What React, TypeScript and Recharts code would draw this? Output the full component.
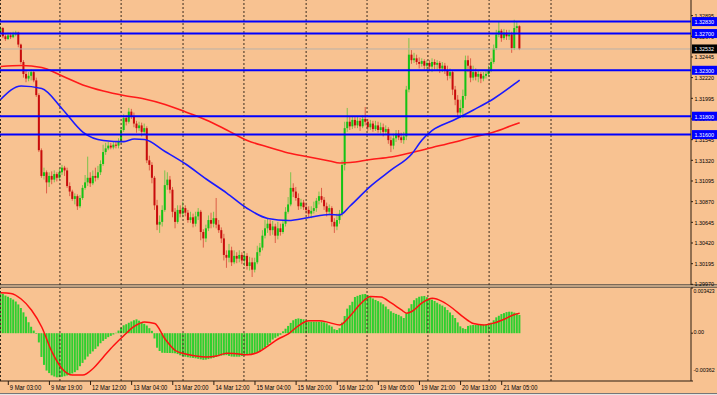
import React from 'react';
import { ComposedChart, Bar, Line, XAxis, YAxis, ReferenceLine } from 'recharts';

// H1 candles, bar 0 = first visible bar; open of bar i = close of bar i-1
const FIRST_OPEN = 1.3271;

const closes = [
  1.3276, 1.3267, 1.3264, 1.3268, 1.3266, 1.3269, 1.3271, 1.3258, 1.3239, 1.3226,
  1.3221, 1.3224, 1.3228, 1.3219, 1.3203, 1.3143, 1.3115, 1.3119, 1.3108, 1.3115,
  1.3111, 1.3117, 1.3113, 1.3119, 1.3124, 1.3121, 1.3104, 1.3098, 1.3090, 1.3093,
  1.3082, 1.3091, 1.3102, 1.3108, 1.3113, 1.3107, 1.3115, 1.3113, 1.3119, 1.3128,
  1.3141, 1.3145, 1.3148, 1.3146, 1.3149, 1.3148, 1.3152, 1.3165, 1.3178, 1.3174,
  1.3185, 1.3180, 1.3172, 1.3167, 1.3170, 1.3163, 1.3167, 1.3132, 1.3127, 1.3113,
  1.3083, 1.3062, 1.3065, 1.3078, 1.3105, 1.3111, 1.3100, 1.3076, 1.3065, 1.3078,
  1.3074, 1.3080, 1.3075, 1.3067, 1.3070, 1.3063, 1.3071, 1.3076, 1.3054, 1.3047,
  1.3058, 1.3067, 1.3063, 1.3069, 1.3062, 1.3056, 1.3047, 1.3029, 1.3026, 1.3034,
  1.3021, 1.3028, 1.3025, 1.3029, 1.3023, 1.3028, 1.3017, 1.3021, 1.3013, 1.3021,
  1.3032, 1.3037, 1.3050, 1.3058, 1.3063, 1.3056, 1.3060, 1.3050, 1.3058, 1.3054,
  1.3063, 1.3076, 1.3084, 1.3102, 1.3098, 1.3091, 1.3082, 1.3086, 1.3081, 1.3078,
  1.3074, 1.3077, 1.3080, 1.3088, 1.3093, 1.3089, 1.3082, 1.3076, 1.3080, 1.3065,
  1.3060, 1.3067, 1.3074, 1.3127, 1.3167, 1.3174, 1.3169, 1.3176, 1.3170, 1.3175,
  1.3169, 1.3177, 1.3174, 1.3168, 1.3172, 1.3166, 1.3170, 1.3165, 1.3168, 1.3163,
  1.3166, 1.3154, 1.3148, 1.3156, 1.3161, 1.3157, 1.3154, 1.3158, 1.3209, 1.3247,
  1.3241, 1.3243, 1.3239, 1.3237, 1.3240, 1.3235, 1.3238, 1.3234, 1.3239, 1.3236,
  1.3238, 1.3232, 1.3235, 1.3230, 1.3224, 1.3228, 1.3209, 1.3198, 1.3184, 1.3189,
  1.3202, 1.3241, 1.3235, 1.3222, 1.3228, 1.3223, 1.3226, 1.3221, 1.3224, 1.3226,
  1.3230, 1.3239, 1.3254, 1.3269, 1.3273, 1.3265, 1.3271, 1.3267, 1.3269, 1.3254,
  1.3276, 1.3278, 1.32532,
];

const highs = [
  1.3278, 1.3277, 1.3269, 1.3271, 1.3271, 1.3272, 1.3273, 1.3272, 1.3259, 1.3241,
  1.3230, 1.3228, 1.3231, 1.3230, 1.3222, 1.3205, 1.3145, 1.3124, 1.3121, 1.3119,
  1.3120, 1.3121, 1.3119, 1.3123, 1.3127, 1.3126, 1.3124, 1.3108, 1.3100, 1.3096,
  1.3095, 1.3094, 1.3105, 1.3116, 1.3136, 1.3119, 1.3121, 1.3124, 1.3126, 1.3132,
  1.3149, 1.3151, 1.3152, 1.3151, 1.3153, 1.3152, 1.3156, 1.3168, 1.3182, 1.3181,
  1.3189, 1.3188, 1.3184, 1.3175, 1.3174, 1.3173, 1.3172, 1.3169, 1.3137, 1.3130,
  1.3115, 1.3089, 1.3072, 1.3083, 1.3121, 1.3119, 1.3115, 1.3103, 1.3080, 1.3083,
  1.3083, 1.3087, 1.3083, 1.3078, 1.3076, 1.3074, 1.3076, 1.3080, 1.3078, 1.3057,
  1.3062, 1.3072, 1.3075, 1.3076, 1.3091, 1.3067, 1.3059, 1.3052, 1.3034, 1.3041,
  1.3038, 1.3034, 1.3032, 1.3034, 1.3032, 1.3033, 1.3031, 1.3027, 1.3026, 1.3026,
  1.3039, 1.3042, 1.3056, 1.3067, 1.3069, 1.3067, 1.3066, 1.3063, 1.3065, 1.3063,
  1.3067, 1.3081, 1.3092, 1.3119, 1.3107, 1.3103, 1.3096, 1.3090, 1.3089, 1.3086,
  1.3082, 1.3082, 1.3087, 1.3091, 1.3098, 1.3102, 1.3092, 1.3086, 1.3084, 1.3082,
  1.3069, 1.3074, 1.3078, 1.3132, 1.3174, 1.3189, 1.3179, 1.3180, 1.3179, 1.3179,
  1.3178, 1.3181, 1.3190, 1.3177, 1.3176, 1.3175, 1.3175, 1.3174, 1.3173, 1.3172,
  1.3170, 1.3168, 1.3158, 1.3161, 1.3165, 1.3165, 1.3162, 1.3163, 1.3213, 1.3265,
  1.3252, 1.3249, 1.3247, 1.3244, 1.3243, 1.3242, 1.3241, 1.3241, 1.3243, 1.3242,
  1.3241, 1.3240, 1.3239, 1.3238, 1.3235, 1.3232, 1.3230, 1.3213, 1.3203, 1.3198,
  1.3209, 1.3246, 1.3246, 1.3243, 1.3235, 1.3232, 1.3230, 1.3228, 1.3228, 1.3230,
  1.3235, 1.3243, 1.3258, 1.3274, 1.3283, 1.3275, 1.3275, 1.3274, 1.3274, 1.3272,
  1.3285, 1.3283, 1.3279,
];

const lows = [
  1.3269, 1.3265, 1.3262, 1.3263, 1.3264, 1.3265, 1.3267, 1.3255, 1.3237, 1.3222,
  1.3217, 1.3218, 1.3219, 1.3217, 1.3201, 1.3141, 1.3113, 1.3111, 1.3096, 1.3103,
  1.3106, 1.3108, 1.3109, 1.3111, 1.3116, 1.3115, 1.3102, 1.3093, 1.3088, 1.3084,
  1.3078, 1.3080, 1.3089, 1.3100, 1.3104, 1.3103, 1.3105, 1.3109, 1.3111, 1.3116,
  1.3126, 1.3138, 1.3143, 1.3144, 1.3144, 1.3145, 1.3145, 1.3150, 1.3163, 1.3170,
  1.3172, 1.3177, 1.3168, 1.3162, 1.3164, 1.3158, 1.3160, 1.3129, 1.3121, 1.3107,
  1.3078, 1.3056, 1.3053, 1.3060, 1.3076, 1.3100, 1.3096, 1.3070, 1.3058, 1.3063,
  1.3070, 1.3070, 1.3071, 1.3064, 1.3064, 1.3059, 1.3060, 1.3067, 1.3045, 1.3037,
  1.3043, 1.3055, 1.3058, 1.3059, 1.3058, 1.3053, 1.3042, 1.3023, 1.3015, 1.3021,
  1.3017, 1.3019, 1.3020, 1.3021, 1.3019, 1.3017, 1.3013, 1.3012, 1.3005, 1.3010,
  1.3019, 1.3028, 1.3034, 1.3047, 1.3053, 1.3050, 1.3051, 1.3042, 1.3046, 1.3050,
  1.3052, 1.3060, 1.3074, 1.3082, 1.3092, 1.3088, 1.3078, 1.3079, 1.3078, 1.3074,
  1.3070, 1.3069, 1.3074, 1.3076, 1.3084, 1.3086, 1.3078, 1.3071, 1.3072, 1.3060,
  1.3053, 1.3056, 1.3063, 1.3071, 1.3121, 1.3163, 1.3165, 1.3166, 1.3167, 1.3167,
  1.3164, 1.3167, 1.3170, 1.3164, 1.3165, 1.3163, 1.3164, 1.3162, 1.3161, 1.3158,
  1.3160, 1.3150, 1.3141, 1.3144, 1.3152, 1.3154, 1.3151, 1.3150, 1.3154, 1.3206,
  1.3237, 1.3238, 1.3236, 1.3232, 1.3234, 1.3231, 1.3230, 1.3229, 1.3228, 1.3231,
  1.3230, 1.3227, 1.3228, 1.3226, 1.3219, 1.3221, 1.3203, 1.3192, 1.3179, 1.3178,
  1.3178, 1.3198, 1.3228, 1.3217, 1.3219, 1.3219, 1.3217, 1.3216, 1.3218, 1.3221,
  1.3223, 1.3228, 1.3237, 1.3252, 1.3266, 1.3261, 1.3263, 1.3263, 1.3263, 1.3249,
  1.3252, 1.3271, 1.3252,
];

// oscillator histogram, one value per bar
const hist = [
  0.00302, 0.00298, 0.00285, 0.00276, 0.00266, 0.00255, 0.00241, 0.00218, 0.00191, 0.00158,
  0.00125, 0.00083, 0.00048, 0.0002, -0.00005, -0.0007, -0.0018, -0.0024, -0.00283, -0.00302,
  -0.00319, -0.00328, -0.00334, -0.00333, -0.0033, -0.00326, -0.0032, -0.00315, -0.00305, -0.00295,
  -0.0028, -0.0025, -0.00225, -0.002, -0.00177, -0.00156, -0.00138, -0.00119, -0.001, -0.00076,
  -0.00058, -0.00044, -0.0003, -0.0002, -0.0001, 0.00003, 0.0002, 0.00042, 0.0006, 0.00068,
  0.00079, 0.00089, 0.00098, 0.00105, 0.00095, 0.00083, 0.00071, 0.00058, 0.00038, 0.00018,
  -0.0004, -0.0011, -0.00135, -0.00148, -0.00149, -0.0015, -0.0015, -0.00151, -0.00152, -0.00158,
  -0.00167, -0.00174, -0.00178, -0.00182, -0.00185, -0.00187, -0.0019, -0.00194, -0.00198, -0.00202,
  -0.002, -0.00196, -0.00191, -0.00187, -0.0018, -0.00174, -0.0017, -0.00167, -0.00166, -0.00172,
  -0.00177, -0.00178, -0.00178, -0.00178, -0.00173, -0.00168, -0.00164, -0.00161, -0.00158, -0.00152,
  -0.00145, -0.00137, -0.00124, -0.00108, -0.00092, -0.00072, -0.00048, -0.00035, -0.00024, -0.00012,
  0.00014, 0.00034, 0.00055, 0.00078, 0.00098, 0.00108, 0.00112, 0.00108, 0.00105, 0.00096,
  0.00088, 0.00087, 0.00087, 0.00087, 0.00087, 0.00087, 0.00082, 0.00075, 0.0006, 0.0005,
  0.0003, 0.00024, 0.00038, 0.0008, 0.0013, 0.00186, 0.00212, 0.00238, 0.00274, 0.00283,
  0.0029, 0.00295, 0.00297, 0.00288, 0.00279, 0.00263, 0.00252, 0.00243, 0.00233, 0.00219,
  0.00202, 0.00182, 0.00166, 0.00154, 0.00146, 0.00139, 0.00128, 0.00115, 0.0015, 0.00188,
  0.0022, 0.0025, 0.00265, 0.00276, 0.0028, 0.00282, 0.00272, 0.00263, 0.00254, 0.00244,
  0.00231, 0.00219, 0.00209, 0.00197, 0.00176, 0.00157, 0.00137, 0.00115, 0.00082, 0.00052,
  0.00038, 0.00032, 0.00055, 0.0006, 0.00062, 0.00062, 0.00062, 0.00064, 0.00065, 0.00067,
  0.00072, 0.0008, 0.00098, 0.0012, 0.00132, 0.00145, 0.00152, 0.0016, 0.00163, 0.00163,
  0.00156, 0.0015, 0.00138,
];

// moving averages, read at these bars
const slowAt = [0, 8, 16, 24, 32, 40, 48, 56, 64, 72, 80, 88, 96, 104, 112, 120, 128, 132, 136, 144, 152, 160, 168, 176, 184, 192, 200, 202];
const maSlow = [
  1.32341, 1.32352, 1.3233, 1.32238, 1.3214, 1.32074, 1.32025, 1.31987, 1.31928, 1.31846,
  1.31759, 1.3165, 1.31536, 1.31465, 1.314, 1.31356, 1.31313, 1.31291, 1.31296, 1.31329,
  1.31356, 1.31405, 1.3146, 1.31514, 1.31574, 1.31628, 1.3171, 1.31729,
];
const fastAt = [0, 8, 16, 24, 32, 40, 48, 52, 56, 64, 72, 80, 88, 96, 104, 112, 120, 128, 132, 136, 144, 152, 160, 164, 168, 176, 184, 192, 200, 202];
const maFast = [
  1.31982, 1.32129, 1.32102, 1.31879, 1.31628, 1.31536, 1.31523, 1.31552, 1.31547, 1.31416,
  1.3128, 1.31117, 1.30964, 1.30796, 1.30687, 1.30665, 1.30698, 1.3073, 1.30725, 1.30823,
  1.3104, 1.31215, 1.31389, 1.31541, 1.31645, 1.31753, 1.31868, 1.31993, 1.32151, 1.32194,
];

// signal line of the oscillator
const sigAt = [
  0, 4, 8, 12, 16, 20, 24, 28, 32, 36, 40, 44, 48, 52, 56, 60, 64, 68, 72, 76,
  80, 84, 88, 92, 96, 100, 104, 108, 112, 116, 120, 124, 128, 132, 136, 140, 144, 148, 152, 156,
  158, 160, 164, 168, 172, 176, 180, 184, 188, 192, 196, 200, 202,
];
const signal = [
  0.00306, 0.00301, 0.00259, 0.00176, 0.00047, -0.00142, -0.00271, -0.00317, -0.00317, -0.00267,
  -0.0018, -0.00093, -0.00017, 0.00051, 0.00085, 0.00073, -0.00044, -0.00131, -0.00158, -0.00173,
  -0.0018, -0.00173, -0.00151, -0.00156, -0.00163, -0.00146, -0.00097, -0.00044, -0.00005, 0.00058,
  0.00094, 0.00095, 0.0008, 0.00062, 0.0013, 0.00221, 0.00278, 0.00274, 0.00229, 0.00176,
  0.00151, 0.00164, 0.00229, 0.00264, 0.00239, 0.00187, 0.00123, 0.00073, 0.00062, 0.00077,
  0.00106, 0.00142, 0.00151,
];

const levels = [1.3283, 1.327, 1.323, 1.318, 1.316];
const lastPrice = 1.32532;
const scaleTicks = [1.32895, 1.3267, 1.32445, 1.3222, 1.31995, 1.3177, 1.31545, 1.3132, 1.31095, 1.3087, 1.30645, 1.3042, 1.30195, 1.2997];
const oscTicks = [0.003423, 0, -0.00362];
const oscLabels = ['0.003423', '0.00', '-0.00362'];

const timeAt = [3, 19, 35, 51, 67, 83, 99, 115, 131, 147, 163, 179, 195];
const timeLabels = [
  '9 Mar 03:00', '9 Mar 19:00', '12 Mar 12:00', '13 Mar 04:00', '13 Mar 20:00', '14 Mar 12:00',
  '15 Mar 04:00', '15 Mar 20:00', '16 Mar 12:00', '19 Mar 05:00', '19 Mar 21:00', '20 Mar 13:00', '21 Mar 05:00',
];
// dotted period separators (bar units)
const gridAt = [-0.03, 23.1, 46.9, 71, 94.7, 118.9, 142.6, 166.3, 190.1, 214.2];

const X_DOMAIN: [number, number] = [-0.23, 268.67];
const PRICE_DOMAIN: [number, number] = [1.29963, 1.33065];
const OSC_DOMAIN: [number, number] = [-0.00362, 0.003423];

const BG = '#f8c291';
const AXIS = '#2b1d10';
const BULL = '#14c314';
const BEAR = '#c80c0c';
const FONT = "'Liberation Sans', Arial, sans-serif";

type Row = { i: number; o: number; h: number; l: number; c: number; hist: number };

const rows: Row[] = closes.map((c, i) => ({
  i,
  o: i === 0 ? FIRST_OPEN : closes[i - 1],
  h: highs[i],
  l: lows[i],
  c,
  hist: hist[i],
}));
const slowRows = slowAt.map((b, k) => ({ i: b, v: maSlow[k] }));
const fastRows = fastAt.map((b, k) => ({ i: b, v: maFast[k] }));
const sigRows = sigAt.map((b, k) => ({ i: b, v: signal[k] }));

// candle drawn inside the [low, high] range bar
function Candle(props: any) {
  const { x, y, width, height, payload } = props;
  if (!payload || height == null) return null;
  const { o, h, l, c } = payload;
  const span = h - l || 1e-9;
  const py = (v: number) => y + ((h - v) / span) * height;
  const up = c >= o;
  const col = up ? BULL : BEAR;
  const cx = x + width / 2;
  const top = py(Math.max(o, c));
  const bot = py(Math.min(o, c));
  return (
    <g>
      <line x1={cx} x2={cx} y1={y} y2={y + height} stroke={col} strokeOpacity={0.55} strokeWidth={1} />
      <rect x={x} y={top} width={width} height={Math.max(1, bot - top)} fill={col} />
    </g>
  );
}

// small axis text squeezed to the width MT4 uses
function Txt({ x, y, s, fill, per, size = 7 }: { x: number; y: number; s: string; fill: string; per: number; size?: number }) {
  return (
    <text
      x={x}
      y={y}
      fontSize={size}
      fill={fill}
      fontFamily={FONT}
      textLength={s.length * per}
      lengthAdjust="spacingAndGlyphs"
    >
      {s}
    </text>
  );
}

function PriceTick(props: any) {
  const { x, y, payload } = props;
  const v = payload.value as number;
  const txt = v.toFixed(5);
  const boxed = levels.includes(v) || v === lastPrice;
  if (boxed) {
    return (
      <g>
        <rect x={x + 1} y={y - 4.5} width={26} height={9} fill={v === lastPrice ? '#000000' : '#0000ff'} />
        <Txt x={x + 3.5} y={y + 2.4} s={txt} fill="#ffffff" per={2.8} size={6.2} />
      </g>
    );
  }
  const lift = v === scaleTicks[scaleTicks.length - 1] ? -1 : 0;
  return (
    <g>
      <line x1={x} x2={x + 2} y1={y} y2={y} stroke={AXIS} />
      <Txt x={x + 3.5} y={y + 2.4 + lift} s={txt} fill="#000000" per={2.8} size={6.2} />
    </g>
  );
}

function OscTick(props: any) {
  const { x, y, payload, index } = props;
  const shift = [2.5, -1, -11.5][index] ?? 0;
  const s = oscLabels[oscTicks.indexOf(payload.value)] ?? '';
  return (
    <g>
      <line x1={x} x2={x + 2} y1={y} y2={y} stroke={AXIS} />
      <Txt x={x + 2.5} y={y + shift + 2.2} s={s} fill="#000000" per={2.65} size={5.6} />
    </g>
  );
}

function TimeTick(props: any) {
  const { x, y, payload } = props;
  const k = timeAt.indexOf(payload.value);
  const s = timeLabels[k] ?? '';
  return (
    <g>
      <line x1={x} x2={x} y1={y} y2={y + 4} stroke={AXIS} />
      <Txt x={x + 1.5} y={y + 8.5} s={s} fill="#000000" per={2.85} />
    </g>
  );
}

const grid = (prefix: string) =>
  gridAt.map((g) => (
    <ReferenceLine key={prefix + g} x={g} stroke="#3a2c1e" strokeDasharray="2 2" strokeWidth={1} />
  ));

export default function App() {
  const priceTicks = [...scaleTicks, ...levels, lastPrice];
  return (
    <div style={{ position: 'absolute', left: 0, top: 0, width: 717, height: 395, background: BG, overflow: 'hidden' }}>
      {/* panel separator sits under both charts */}
      <div style={{ position: 'absolute', left: 0, top: 284, width: 717, height: 2, background: '#bda183', borderTop: '1px solid #7d6a58', borderBottom: '1px solid #7d6a58' }} />
      <div style={{ position: 'absolute', left: 0, top: 393, width: 717, height: 1, background: '#767676' }} />
      <div style={{ position: 'absolute', left: 0, top: 394, width: 717, height: 1, background: '#e4e4e4' }} />
      <div style={{ position: 'absolute', left: 0, top: 0 }}>
        <ComposedChart width={717} height={288} data={rows} margin={{ top: 0, right: 0, bottom: 3, left: 0 }}>
          <XAxis type="number" dataKey="i" domain={X_DOMAIN} hide allowDataOverflow />
          <YAxis
            orientation="right"
            width={26}
            domain={PRICE_DOMAIN}
            ticks={priceTicks}
            interval={0}
            tick={<PriceTick />}
            tickLine={false}
            tickSize={0}
            tickMargin={0}
            axisLine={{ stroke: AXIS }}
            allowDataOverflow
          />
          {grid('m')}
          <ReferenceLine y={lastPrice} stroke="#b9b1a8" strokeWidth={1} />
          <Bar dataKey={(d: Row) => [d.l, d.h]} shape={<Candle />} barSize={2} isAnimationActive={false} />
          <Line data={slowRows} dataKey="v" type="monotone" stroke="#ff1a1a" strokeWidth={1.6} dot={false} activeDot={false} isAnimationActive={false} />
          <Line data={fastRows} dataKey="v" type="monotone" stroke="#1a1aff" strokeWidth={1.6} dot={false} activeDot={false} isAnimationActive={false} />
          {levels.map((v) => (
            <ReferenceLine key={v} y={v} stroke="#0000ff" strokeWidth={2} />
          ))}
        </ComposedChart>
      </div>
      <div style={{ position: 'absolute', left: 0, top: 285 }}>
        <ComposedChart width={717} height={110} data={rows} margin={{ top: 3, right: 0, bottom: 0, left: 0 }}>
          <XAxis
            type="number"
            dataKey="i"
            domain={X_DOMAIN}
            ticks={timeAt}
            interval={0}
            tick={<TimeTick />}
            tickLine={false}
            tickSize={0}
            tickMargin={0}
            height={14}
            axisLine={{ stroke: AXIS }}
            allowDataOverflow
          />
          <YAxis
            orientation="right"
            width={26}
            domain={OSC_DOMAIN}
            ticks={oscTicks}
            interval={0}
            tick={<OscTick />}
            tickLine={false}
            tickSize={0}
            tickMargin={0}
            axisLine={{ stroke: AXIS }}
            allowDataOverflow
          />
          {grid('o')}
          <Bar dataKey="hist" fill="#2fcf2f" barSize={2} isAnimationActive={false} />
          <Line data={sigRows} dataKey="v" type="monotone" stroke="#ff1010" strokeWidth={1.5} dot={false} activeDot={false} isAnimationActive={false} />
        </ComposedChart>
      </div>
    </div>
  );
}
